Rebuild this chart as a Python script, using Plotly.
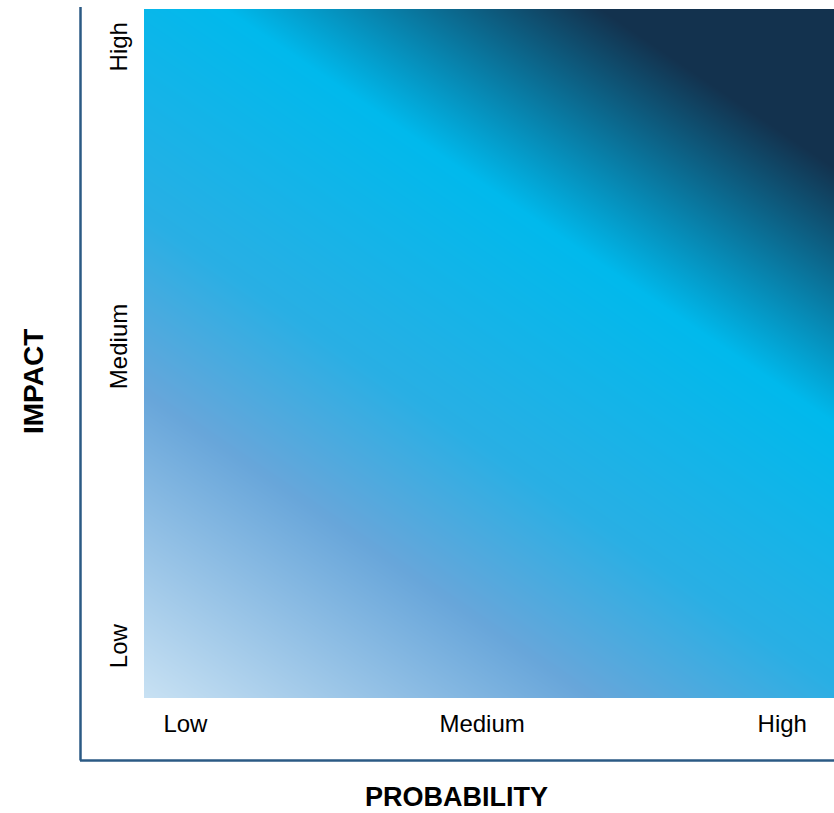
import plotly.graph_objects as go

# Gradient field (risk intensity at the corners of the matrix)
prob_pos = [0.0, 1.0]
impact_pos = [0.0, 1.0]
risk_level = [[0.0, 0.68],
              [1.0, 1.68]]

# Colour stops (risk level -> colour)
stop_levels = [0.0, 0.44, 0.70, 1.08, 1.45, 1.68]
stop_colors = ["#c8e1f3", "#68a6da", "#29afe4", "#00b9ec", "#13324e", "#13324e"]

x_tick_vals = [0.06, 0.49, 0.925]
x_tick_text = ["Low", "Medium", "High"]
y_tick_vals = [0.07, 0.505, 0.94]
y_tick_text = ["Low", "Medium", "High"]

zmax = stop_levels[-1]
colorscale = [[lv / zmax, c] for lv, c in zip(stop_levels, stop_colors)]

fig = go.Figure(go.Heatmap(
    x=prob_pos, y=impact_pos, z=risk_level,
    colorscale=colorscale, zmin=0, zmax=zmax,
    zsmooth="best", showscale=False, hoverinfo="skip",
))

W, H = 834, 813
L, R, T, B = 144, 0, 9, 115
pw, ph = W - L - R, H - T - B

def px_x(X):
    return (X - L) / pw

def px_y(Y):
    return (H - B - Y) / ph

font = "Liberation Sans, Arial, sans-serif"
fig.update_layout(
    width=W, height=H,
    margin=dict(l=L, r=R, t=T, b=B, pad=0),
    paper_bgcolor="white", plot_bgcolor="white",
    font=dict(family=font, size=24, color="black"),
    xaxis=dict(range=[0, 1], tickvals=x_tick_vals, ticktext=x_tick_text,
               showgrid=False, zeroline=False, showline=False,
               ticks="outside", ticklen=4, tickcolor="rgba(0,0,0,0)", fixedrange=True),
    yaxis=dict(range=[0, 1], tickvals=y_tick_vals, ticktext=y_tick_text,
               tickangle=-90, showgrid=False, zeroline=False, showline=False,
               ticks="outside", ticklen=6, tickcolor="rgba(0,0,0,0)", fixedrange=True),
    shapes=[
        dict(type="line", xref="paper", yref="paper",
             x0=px_x(80.5), x1=px_x(80.5), y0=px_y(7), y1=px_y(760.5),
             line=dict(color="#2b5a84", width=2.5)),
        dict(type="line", xref="paper", yref="paper",
             x0=px_x(80), x1=px_x(834), y0=px_y(760.5), y1=px_y(760.5),
             line=dict(color="#2b5a84", width=2.5)),
    ],
    annotations=[
        dict(text="<b>PROBABILITY</b>", xref="paper", yref="paper",
             x=px_x(456), y=px_y(797), xanchor="center", yanchor="middle",
             borderpad=0, showarrow=False,
             font=dict(size=27, family=font, color="black")),
        dict(text="<b>IMPACT</b>", xref="paper", yref="paper",
             x=px_x(33), y=px_y(382), xanchor="center", yanchor="middle",
             textangle=-90, showarrow=False,
             font=dict(size=28, family=font, color="black")),
    ],
)

fig.write_html(
    "out.html",
    config={"displayModeBar": False},
    post_script="document.body.style.margin='0';document.body.style.overflow='hidden';",
)
